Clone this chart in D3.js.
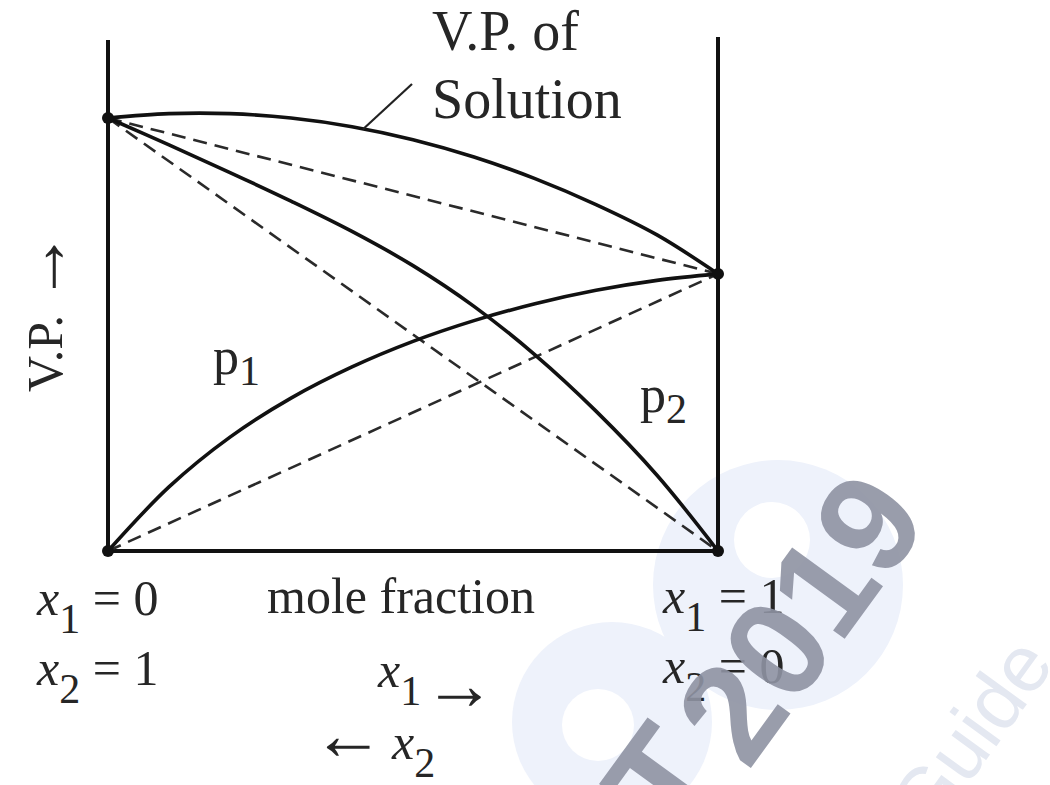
<!DOCTYPE html>
<html><head><meta charset="utf-8">
<script src="https://cdn.jsdelivr.net/npm/d3@7"></script>
<style>
html,body{margin:0;padding:0;background:#fff;}
svg{display:block;}
text.lbl{font-family:"Liberation Serif","Times New Roman",serif;fill:#262626;}
</style></head>
<body>
<svg id="c" width="1050" height="785"></svg>
<script>
// mole fraction of component 1 (x1), left = 0, right = 1
const molFrac   = [0, 0.1, 0.2, 0.3, 0.4, 0.5, 0.6, 0.7, 0.8, 0.9, 1];
// vapour pressures (arbitrary units, p2° = 100)
const vpSolution = [100, 101, 101, 100, 98, 95, 91, 86, 80, 73, 64];
const vpP2       = [100, 93.8, 87.4, 80.8, 73.8, 65.9, 56.5, 45.3, 32.3, 17.5, 0];
const vpP1       = [0, 14.8, 26.3, 35.3, 42.5, 48.4, 53.2, 57.1, 60.2, 62.5, 64];
// ideal (Raoult) straight lines: [value at x1=0, value at x1=1]
const idealTotal = [100, 64];
const idealP2    = [100, 0];
const idealP1    = [0, 64];
const axisTop = 118;
// labels
const curveLabels = [{base:"p", sub:"1"}, {base:"p", sub:"2"}];
const endLabelsLeft  = [{v:"x", s:"1", r:" = 0"}, {v:"x", s:"2", r:" = 1"}];
const endLabelsRight = [{v:"x", s:"1", r:" = 1"}, {v:"x", s:"2", r:" = 0"}];
const xAxisTitle = "mole fraction";
const yAxisTitle = "V.P.";
const solutionTitle = ["V.P. of", "Solution"];
const watermark = ["2019", "T", "Guide"];

const svg = d3.select("#c");
const x = d3.scaleLinear().domain([0, 1]).range([108, 718]);
const y = d3.scaleLinear().domain([0, 100]).range([551, 118]);

// ---- watermark (background blobs) ----
const wm = svg.append("g");
wm.append("circle").attr("cx", 778).attr("cy", 585).attr("r", 125).attr("fill", "#eef2fb");
wm.append("circle").attr("cx", 772).attr("cy", 540).attr("r", 38).attr("fill", "#ffffff");
wm.append("circle").attr("cx", 612).attr("cy", 722).attr("r", 100).attr("fill", "#eef2fb");
wm.append("circle").attr("cx", 598).attr("cy", 725).attr("r", 36).attr("fill", "#ffffff");

const g = svg.append("g");

// axes frame
g.append("line").attr("x1", x(0)).attr("x2", x(0)).attr("y1", y(0)).attr("y2", y(axisTop))
  .attr("stroke", "#111").attr("stroke-width", 4);
g.append("line").attr("x1", x(1)).attr("x2", x(1)).attr("y1", y(0)).attr("y2", y(axisTop) - 3)
  .attr("stroke", "#111").attr("stroke-width", 4);
g.append("line").attr("x1", x(0)).attr("x2", x(1)).attr("y1", y(0)).attr("y2", y(0))
  .attr("stroke", "#111").attr("stroke-width", 4);

// dashed ideal lines
const lineStraight = d3.line().x((d, i) => x(i)).y(d => y(d));
[idealTotal, idealP2, idealP1].forEach(arr => {
  g.append("path").attr("d", lineStraight(arr)).attr("fill", "none")
    .attr("stroke", "#2a2a2a").attr("stroke-width", 2.6).attr("stroke-dasharray", "14,8");
});

// solid curves
const curve = d3.line().x((d, i) => x(molFrac[i])).y(d => y(d)).curve(d3.curveCatmullRom.alpha(0.5));
[vpSolution, vpP2, vpP1].forEach(arr => {
  g.append("path").attr("d", curve(arr)).attr("fill", "none")
    .attr("stroke", "#111").attr("stroke-width", 3.6).attr("stroke-linecap", "round");
});

// endpoints
[[0, 0], [0, 100], [1, 0], [1, 64]].forEach(p => {
  g.append("circle").attr("cx", x(p[0])).attr("cy", y(p[1])).attr("r", 6).attr("fill", "#111");
});

// solution annotation
g.append("line").attr("x1", x(0.418)).attr("y1", y(97.4)).attr("x2", 412).attr("y2", 84)
  .attr("stroke", "#222").attr("stroke-width", 2.2);
g.append("text").attr("class", "lbl").attr("x", 432).attr("y", 50).attr("font-size", 56).text(solutionTitle[0]);
g.append("text").attr("class", "lbl").attr("x", 432).attr("y", 118).attr("font-size", 56).text(solutionTitle[1]);

function arrow(t, ch, dx) {
  t.append("tspan").attr("font-size", 72).attr("dy", 4).attr("dx", dx).text(ch);
  t.append("tspan").attr("dy", -4).text("");
}

// y title
{
  const t = g.append("text").attr("class", "lbl").attr("transform", "translate(62,392) rotate(-90)").attr("font-size", 50);
  t.append("tspan").text(yAxisTitle);
  arrow(t, "\u2192", 12);
}

// curve labels
const cl = [{x: 213, y: 374}, {x: 640, y: 412}];
curveLabels.forEach((d, i) => {
  const t = g.append("text").attr("class", "lbl").attr("x", cl[i].x).attr("y", cl[i].y).attr("font-size", 52);
  t.append("tspan").text(d.base);
  t.append("tspan").attr("font-size", 42).attr("dy", 11).text(d.sub);
});

// end labels
function varLabel(xp, yp, d) {
  const t = g.append("text").attr("class", "lbl").attr("x", xp).attr("y", yp).attr("font-size", 50);
  t.append("tspan").attr("font-style", "italic").text(d.v);
  t.append("tspan").attr("font-size", 42).attr("dy", 18).text(d.s);
  t.append("tspan").attr("dy", -18).text(d.r);
}
endLabelsLeft.forEach((d, i) => varLabel(x(0) - 71, 615 + i * 70, d));
endLabelsRight.forEach((d, i) => varLabel(x(1) - 55, 613 + i * 70, d));

g.append("text").attr("class", "lbl").attr("x", 267).attr("y", 613).attr("font-size", 50).text(xAxisTitle);
{
  const t = g.append("text").attr("class", "lbl").attr("x", 378).attr("y", 687).attr("font-size", 50);
  t.append("tspan").attr("font-style", "italic").text("x");
  t.append("tspan").attr("font-size", 42).attr("dy", 18).text("1");
  arrow(t, "\u2192", 2);
}
{
  const t = g.append("text").attr("class", "lbl").attr("x", 312).attr("y", 755).attr("font-size", 50);
  arrow(t, "\u2190", 0);
  t.append("tspan").attr("font-style", "italic").attr("dx", 8).text("x");
  t.append("tspan").attr("font-size", 42).attr("dy", 18).text("2");
}

// ---- watermark text (overlay) ----
svg.append("text").attr("transform", "translate(748,772) rotate(-54)")
  .style("font-family", "'Liberation Sans', Arial, sans-serif").style("font-weight", "bold")
  .attr("font-size", 140).style("fill", "#8f93a3").attr("opacity", 0.9).text(watermark[0]);
svg.append("text").attr("transform", "translate(676,842) rotate(-54)")
  .style("font-family", "'Liberation Sans', Arial, sans-serif").style("font-weight", "bold")
  .attr("font-size", 140).style("fill", "#8f93a3").attr("opacity", 0.9).text(watermark[1]);
svg.append("text").attr("transform", "translate(1056,664) rotate(-54)").attr("text-anchor", "end")
  .style("font-family", "'Liberation Sans', Arial, sans-serif")
  .attr("font-size", 80).style("fill", "#e4e8f1").text(watermark[2]);
</script>
</body></html>
